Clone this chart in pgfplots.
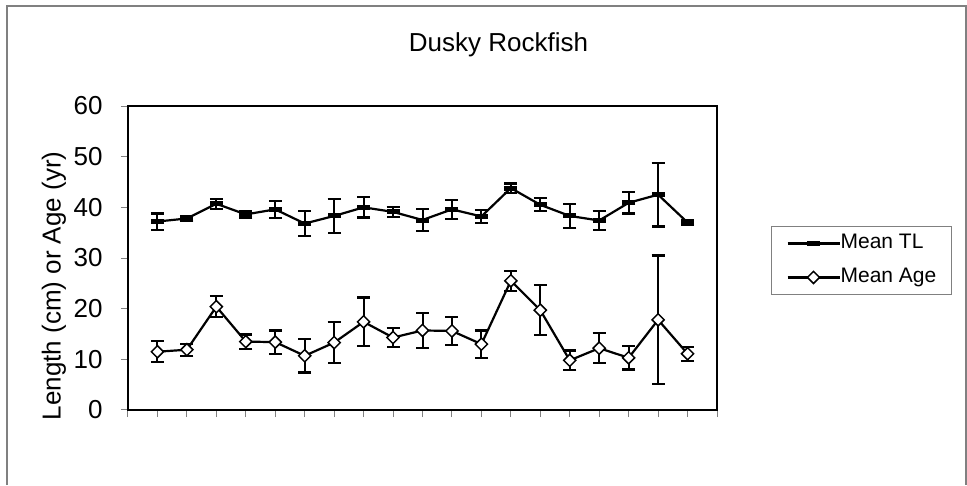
\documentclass[border=0pt]{standalone}
\usepackage{fontspec}
\setmainfont{Liberation Sans}
\usepackage{pgfplots}
\usepackage{pgfplotstable}
\pgfplotsset{compat=1.18}

\definecolor{framegray}{RGB}{128,128,128}

% mean total length (cm) and standard error
\pgfplotstableread{
x   y     e
1   37.2  1.6
2   37.8  0.5
3   40.7  1.0
4   38.6  0.6
5   39.6  1.7
6   36.8  2.4
7   38.3  3.3
8   40.0  2.0
9   39.1  1.0
10  37.5  2.1
11  39.6  1.9
12  38.2  1.3
13  43.8  0.9
14  40.5  1.3
15  38.3  2.3
16  37.4  1.9
17  40.9  2.1
18  42.5  6.3
19  37.0  0.5
}\tltable

% mean age (yr) and standard error
\pgfplotstableread{
x   y     e
1   11.5  2.1
2   11.9  1.2
3   20.4  2.05
4   13.5  1.4
5   13.4  2.3
6   10.7  3.3
7   13.3  4.0
8   17.4  4.8
9   14.3  1.9
10  15.7  3.45
11  15.6  2.8
12  13.0  2.7
13  25.5  2.0
14  19.7  4.9
15  9.8   1.95
16  12.2  2.95
17  10.3  2.3
18  17.8  12.7
19  11.1  1.35
}\agetable

\begin{document}
\begin{tikzpicture}
\path[use as bounding box] (0,0) rectangle (967pt,485pt);
\draw[framegray, line width=1.5pt] (7pt,0pt) -- (7pt,479pt) -- (966pt,479pt) -- (966pt,0pt);
\begin{axis}[
    at={(128pt,75pt)}, anchor=south west,
    scale only axis,
    width=589pt, height=304pt,
    xmin=0, xmax=20, ymin=0, ymax=60,
    xtick={0,...,20}, xticklabels={},
    ytick={0,10,...,60},
    tick pos=left, tick align=outside,
    major tick length=7pt,
    tick style={framegray, line width=1pt},
    axis line style={line width=2pt},
    /pgf/number format/assume math mode=true,
    yticklabel style={font=\fontsize{26}{26}\selectfont, xshift=-15pt},
    title={Dusky Rockfish},
    title style={font=\fontsize{26}{26}\selectfont, at={(axis description cs:0.629,1.160)}, anchor=base},
    ylabel={Length (cm) or Age (yr)},
    ylabel style={font=\fontsize{26}{26}\selectfont, at={(axis description cs:-0.1256,0.408)}, anchor=center},
    legend image code/.code={\draw[mark repeat=2,mark phase=2,#1] plot coordinates {(0pt,0pt) (26pt,0pt) (52pt,0pt)};},
    legend style={at={(axis description cs:1.0917,0.6052)}, anchor=north west,
        draw=framegray, line width=0.8pt, font=\fontsize{21}{21}\selectfont,
        inner xsep=15pt, inner ysep=8pt, row sep=16pt,
        nodes={inner sep=0pt, text height=14pt, text depth=4pt},
        /tikz/every even column/.append style={column sep=10pt}},
    legend cell align=left,
    clip=false,
]
\addplot[black, line width=2.2pt, mark=-, mark size=6.5pt,
    mark options={line width=5pt},
    error bars/.cd, y dir=both, y explicit,
    error bar style={line width=2pt, black},
    error mark options={rotate=90, line width=2.2pt, mark size=6.5pt, black}]
    table[x=x, y=y, y error=e] {\tltable};
\addlegendentry{Mean TL}
\addplot[black, line width=2.2pt, mark=square*, mark size=4.3pt,
    mark options={rotate=45, fill=white, line width=1.5pt},
    error bars/.cd, y dir=both, y explicit,
    error bar style={line width=2pt, black},
    error mark options={rotate=90, line width=2.2pt, mark size=6.5pt, black}]
    table[x=x, y=y, y error=e] {\agetable};
\addlegendentry{Mean Age}
\end{axis}
\end{tikzpicture}
\end{document}
